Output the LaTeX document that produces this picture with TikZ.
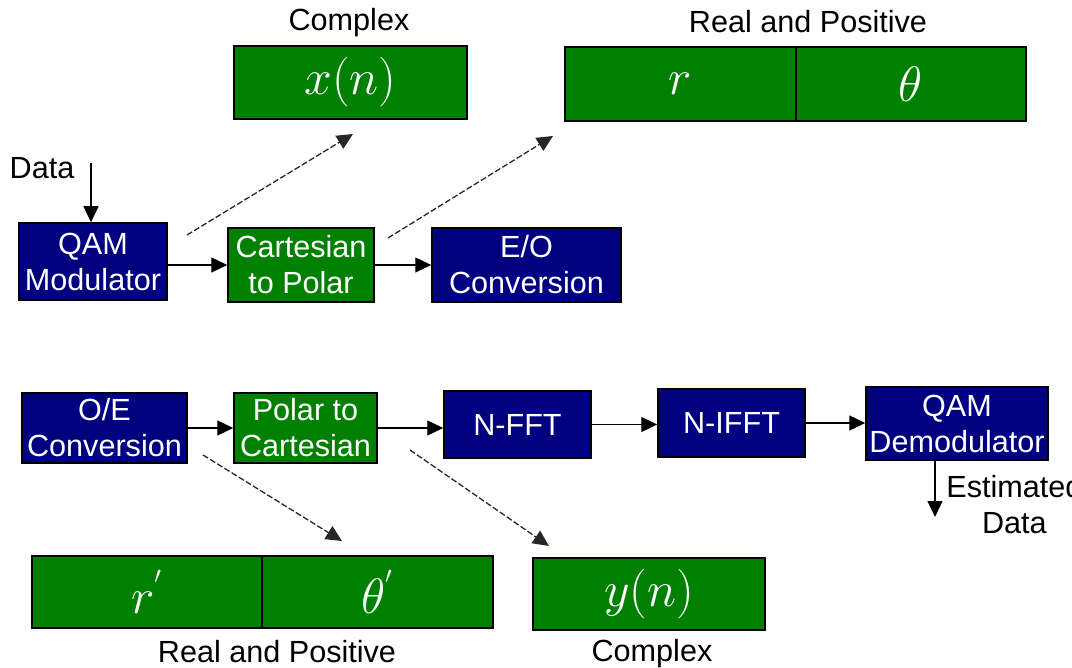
\documentclass[tikz,border=0pt]{standalone}
\usepackage{fontspec}
\setmainfont{Liberation Sans}
\usetikzlibrary{arrows.meta,positioning}
\definecolor{qamblue}{HTML}{000080}
\definecolor{polgreen}{HTML}{008000}
\begin{document}
\begin{tikzpicture}[x=0.5pt, y=-0.5pt,
		blk/.style={draw=black, line width=0.75pt, inner sep=0pt, text=white, align=center,
			font=\fontsize{15.3}{18}\selectfont},
		bluebox/.style={blk, fill=qamblue},
		greenbox/.style={blk, fill=polgreen},
		vecbox/.style={greenbox, font=\fontsize{23}{26}\selectfont, minimum height=36.5pt},
		lbl/.style={inner sep=0pt, align=center, font=\fontsize{15.3}{18}\selectfont},
		flow/.style={-{Triangle[length=8pt,width=7.5pt]}, line width=0.65pt},
		tap/.style={flow, black!85, dash pattern=on 3pt off 1.2pt}]
				\useasboundingbox (0,0) rectangle (1072,668);
				% transmitter
				\node[bluebox, minimum width=74pt, minimum height=38.5pt] (qam) at (93,261.5) {QAM\\Modulator};
				\node[greenbox, minimum width=73pt, minimum height=37pt] (ctp) at (301,265) {Cartesian\\to Polar};
				\node[bluebox, minimum width=94.5pt, minimum height=37pt] (eo) at (526.5,265) {E/O\\Conversion};
				\node[vecbox, minimum width=116.5pt] (xn) at (350.5,82.5) {$x(n)$};
				\node[vecbox, minimum width=115.5pt, minimum height=37pt] (r) at (680.5,84) {$r$};
				\node[vecbox, minimum width=115pt, minimum height=37pt] (th) at (911,84) {$\theta$};
				\node[lbl] (cpxtop) at (349,23) {Complex};
				\node[lbl] (rptop) at (808,22) {Real and Positive};
				\node[lbl] (data) at (42,168) {Data};
				% receiver
				\node[bluebox, minimum width=82.5pt, minimum height=35pt] (oe) at (104.5,428) {O/E\\Conversion};
				\node[greenbox, minimum width=71.5pt, minimum height=35pt] (ptc) at (305.5,428) {Polar to\\Cartesian};
				\node[bluebox, minimum width=73.5pt, minimum height=33.5pt] (fft) at (517.5,424.5) {N-FFT};
				\node[bluebox, minimum width=73.5pt, minimum height=34pt] (ifft) at (731.5,423) {N-IFFT};
				\node[bluebox, minimum width=91pt, minimum height=36.5pt] (demod) at (957,423.5) {QAM\\Demodulator};
				\node[vecbox, minimum width=115pt, minimum height=36pt] (rp) at (147,592) {$r^{'}$};
				\node[vecbox, minimum width=115.5pt, minimum height=36pt] (thp) at (377.5,592) {$\theta^{'}$};
				\node[vecbox, minimum width=116pt, minimum height=36pt] (yn) at (649,594) {$y(n)$};
				\node[lbl] (rpbot) at (277,652) {Real and Positive};
				\node[lbl] (cpxbot) at (652,654) {Complex};
				\node[lbl, anchor=west] (est) at (946,505) {Estimated\\\hspace*{0pt}Data};
				% free ends
				\path (91,163) coordinate (din)
				(935,517) coordinate (dout)
				(187,235) coordinate (t1) (353,134) coordinate (h1)
				(388,238) coordinate (t2) (553,136) coordinate (h2)
				(203,455) coordinate (t3) (342,541) coordinate (h3)
				(410,450) coordinate (t4) (549,546) coordinate (h4);
				\draw[flow] (din) -- (din |- qam.north);
				\draw[flow] (qam.east |- ctp) -- (ctp.west);
				\draw[flow] (ctp.east) -- (eo.west);
				\draw[flow] (oe.east) -- (ptc.west);
				\foreach \a/\b in {ptc/fft, fft/ifft, ifft/demod}
				\draw[flow] (\a.east) -- (\a.east -| \b.west);
				\draw[flow] (demod.south -| dout) -- (dout);
				\foreach \i in {1,...,4}
				\draw[tap] (t\i) -- (h\i);
			\end{tikzpicture}
\end{document}
